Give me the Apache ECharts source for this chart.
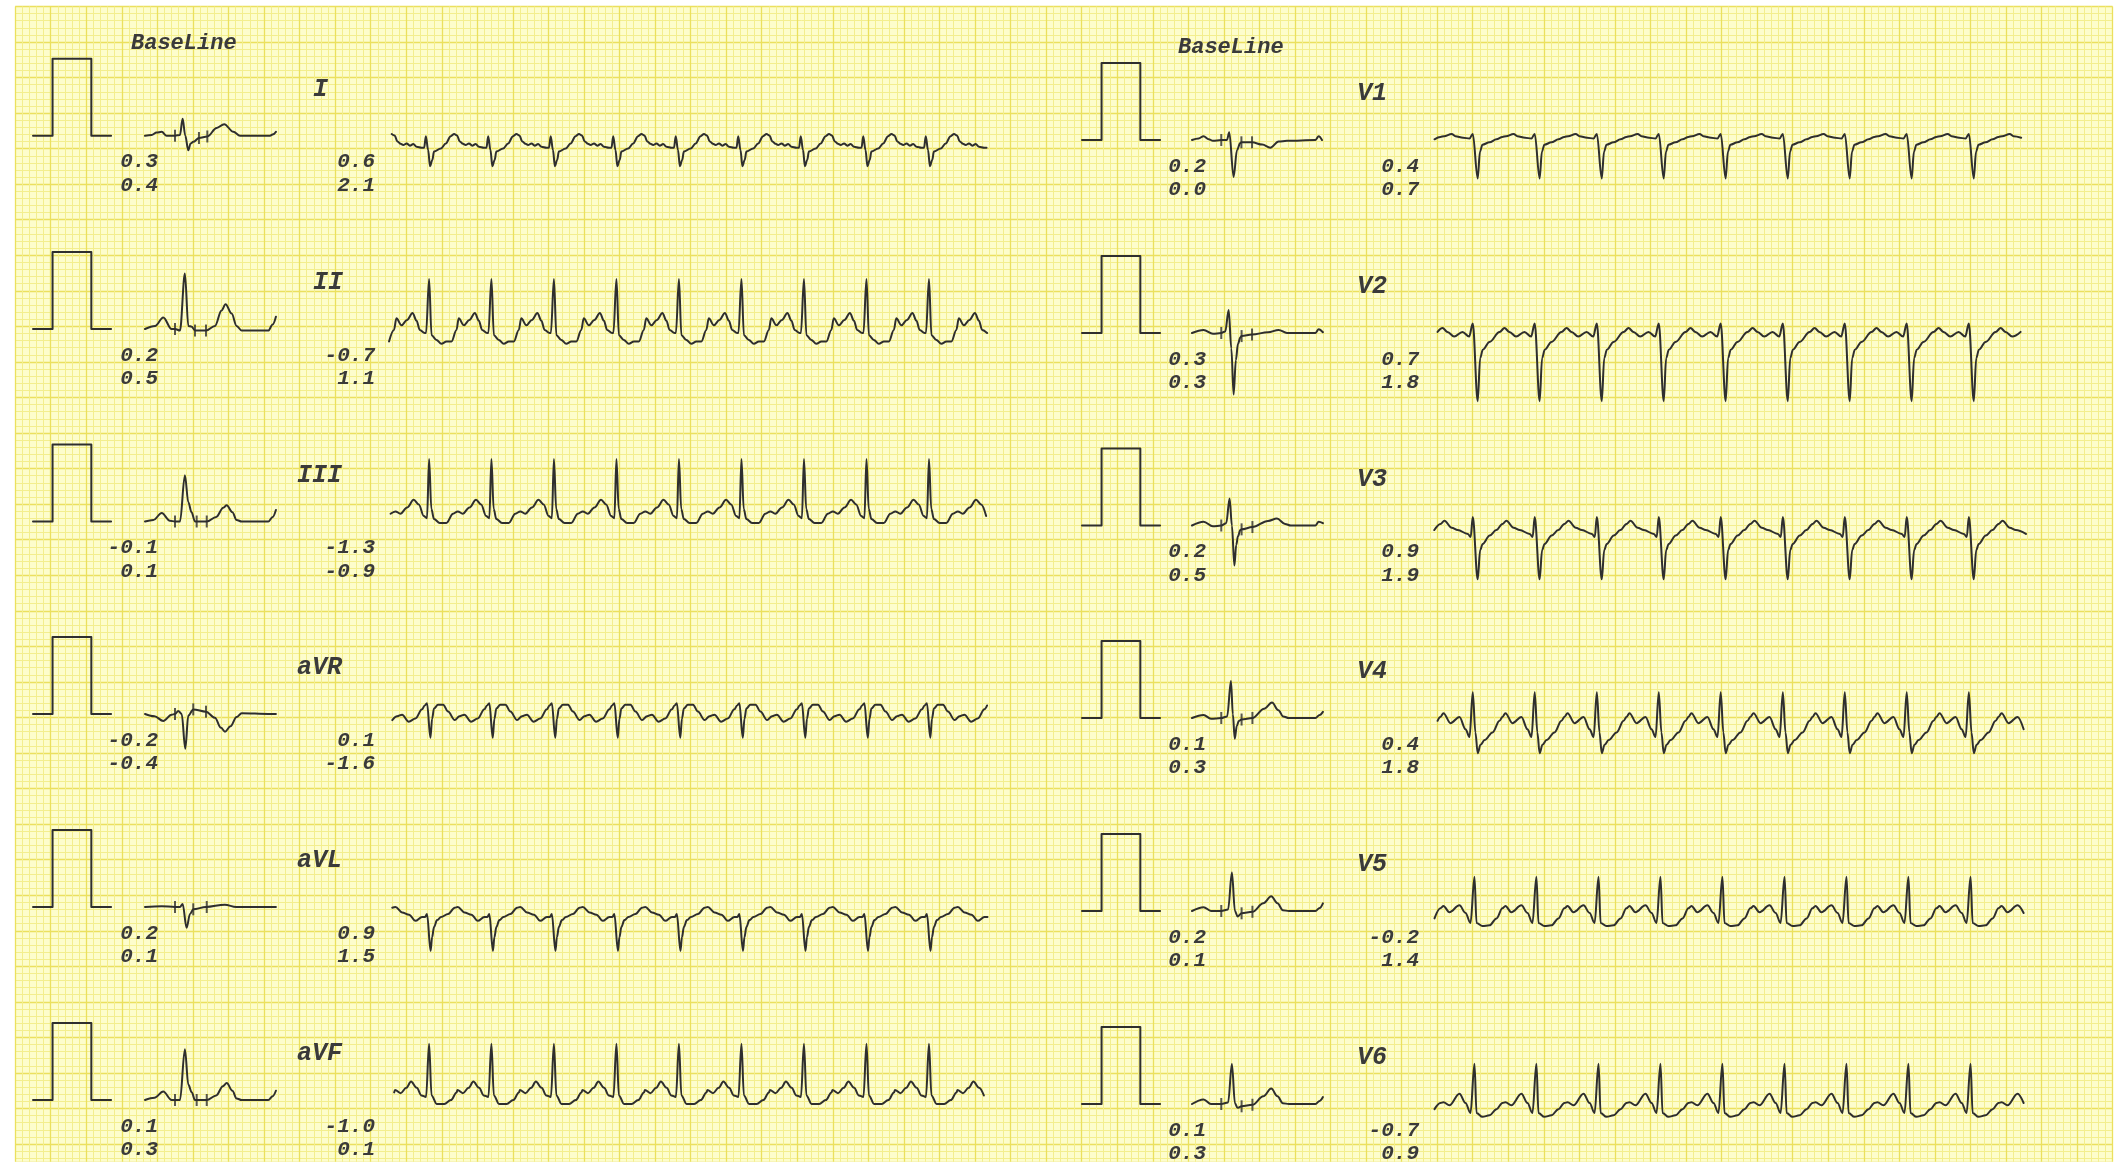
<!DOCTYPE html>
<html><head><meta charset="utf-8">
<script src="https://cdn.jsdelivr.net/npm/echarts@6/dist/echarts.min.js"></script>
<style>html,body{margin:0;padding:0;background:#fff}#c{width:2123px;height:1162px}</style>
</head><body><div id="c"></div>
<script>
// ---------------- DATA (ms, mV) ----------------
const leadsLeft = ['I','II','III','aVR','aVL','aVF'];
const leadsRight = ['V1','V2','V3','V4','V5','V6'];

// calibration pulse
const pulseT = [0, 103, 103, 307, 307, 411];
const pulseV = [0, 0, 1, 1, 0, 0];

// numbers printed under median beats and before rhythm strips
const medNumsLeft  = [['0.3','0.4'],['0.2','0.5'],['-0.1','0.1'],['-0.2','-0.4'],['0.2','0.1'],['0.1','0.3']];
const stripNumsLeft = [['0.6','2.1'],['-0.7','1.1'],['-1.3','-0.9'],['0.1','-1.6'],['0.9','1.5'],['-1.0','0.1']];
const medNumsRight = [['0.2','0.0'],['0.3','0.3'],['0.2','0.5'],['0.1','0.3'],['0.2','0.1'],['0.1','0.3']];
const stripNumsRight = [['0.4','0.7'],['0.7','1.8'],['0.9','1.9'],['0.4','1.8'],['-0.2','1.4'],['-0.7','0.9']];

// beat (R) times in rhythm strips, ms from strip start
const beatsLeft  = [211, 539, 868, 1197, 1526, 1855, 2184, 2513, 2842];
const beatsRight = [213, 539, 866, 1192, 1518, 1845, 2171, 2497, 2824];
const stripEndLeft = 3150;
const stripEndRight = 3120;

// median (BaseLine) beats, [ms, mV]
const medI   = [[0,0],[35,0.01],[61,0.04],[88,0.05],[114,0],[158,0],[184,0.01],[198,0.22],[212,0],[228,-0.19],[240,-0.1],[254,-0.08],[284,-0.03],[328,-0.01],[377,0.1],[417,0.15],[465,0.05],[500,0],[658,0],[675,0.02],[689,0.05]];
const medII  = [[0,0],[53,0.04],[96,0.15],[140,0],[158,0],[184,-0.02],[210,0.72],[228,0.04],[246,0.03],[263,-0.02],[321,-0.02],[368,0.04],[403,0.24],[424,0.32],[456,0.2],[482,0.04],[509,-0.02],[649,-0.02],[672,0.06],[689,0.16]];
const medIII = [[0,0],[44,0.02],[88,0.11],[131,0.01],[158,0],[184,0],[210,0.6],[228,0.25],[245,0.12],[263,0],[325,0],[375,0.06],[412,0.18],[430,0.21],[460,0.12],[482,0.02],[509,0],[649,0],[672,0.06],[689,0.15]];
const medaVR = [[0,0],[50,-0.03],[96,-0.09],[140,-0.01],[158,0],[175,0.04],[193,0],[212,-0.45],[228,-0.02],[254,0.06],[321,0.03],[368,-0.05],[400,-0.18],[421,-0.23],[450,-0.16],[482,-0.04],[509,0.01],[649,0],[689,0]];
const medaVL = [[0,0],[88,0.01],[158,0],[184,0],[198,0.04],[219,-0.27],[237,-0.09],[254,-0.03],[321,0],[420,0.03],[480,0],[689,0]];
const medaVF = [[0,0],[50,0.03],[96,0.11],[140,0],[158,0],[184,0],[210,0.66],[228,0.2],[246,0.1],[263,0],[325,0],[375,0.06],[410,0.18],[430,0.22],[460,0.12],[482,0.02],[509,0],[649,0],[672,0.05],[689,0.12]];
const medV1  = [[0,0],[35,0.02],[61,0.05],[88,0.01],[110,-0.01],[154,0],[184,0],[196,0.1],[219,-0.48],[237,-0.13],[254,-0.04],[260,-0.03],[316,-0.03],[370,-0.06],[412,-0.1],[456,-0.02],[500,-0.01],[650,0],[667,0.05],[684,0]];
const medV2  = [[0,0],[61,0.04],[110,-0.01],[154,0],[175,0.02],[193,0.3],[207,-0.2],[219,-0.8],[231,-0.35],[242,-0.14],[254,-0.06],[261,-0.04],[316,-0.02],[400,0.01],[456,0.04],[500,0],[650,0],[667,0.05],[689,0.01]];
const medV3  = [[0,0],[61,0.05],[110,-0.01],[154,0],[180,0.03],[198,0.35],[210,0],[223,-0.52],[233,-0.25],[242,-0.14],[254,-0.06],[261,-0.05],[318,-0.02],[400,0.06],[447,0.09],[490,0.02],[520,0],[650,0],[667,0.05],[689,0.03]];
const medV4  = [[0,0],[61,0.04],[100,-0.01],[154,0],[185,0.02],[205,0.48],[215,0.05],[225,-0.27],[236,-0.1],[246,-0.04],[261,-0.02],[318,0],[380,0.12],[421,0.2],[455,0.1],[480,0.02],[510,0],[650,0],[672,0.04],[689,0.08]];
const medV5  = [[0,0],[61,0.05],[100,0],[154,0],[190,0.02],[210,0.5],[226,0],[240,-0.07],[261,-0.03],[318,-0.01],[375,0.1],[417,0.19],[450,0.1],[478,0.01],[510,0],[650,0],[672,0.04],[689,0.1]];
const medV6  = [[0,0],[61,0.06],[100,0],[154,0],[190,0.02],[210,0.52],[226,0.01],[240,-0.05],[261,-0.03],[318,-0.01],[375,0.1],[417,0.2],[450,0.1],[478,0.01],[510,0],[650,0],[672,0.04],[689,0.09]];

// fiducial tick marks on the median beats, [ms, mV]
const ticksI   = [[158,0],[284,-0.03],[328,-0.01]];
const ticksII  = [[158,0],[263,-0.02],[321,-0.02]];
const ticksIII = [[158,0],[272,0],[325,0]];
const ticksaVR = [[158,0],[254,0.06],[321,0.03]];
const ticksaVL = [[158,0],[254,-0.03],[325,0]];
const ticksaVF = [[158,0],[272,0],[325,0]];
const ticksV1  = [[154,0],[260,-0.03],[316,-0.03]];
const ticksV2  = [[154,0],[261,-0.04],[316,-0.02]];
const ticksV3  = [[154,0],[261,-0.05],[318,-0.02]];
const ticksV4  = [[154,0],[261,-0.02],[318,0]];
const ticksV5  = [[154,0],[261,-0.03],[318,-0.01]];
const ticksV6  = [[154,0],[261,-0.03],[318,-0.01]];

// one cardiac cycle of each rhythm strip, [ms relative to beat, mV]
const cycI   = [[-166,0.08],[-150,0.05],[-136,0.035],[-118,0.056],[-101,0.026],[-83,0.048],[-66,0.013],[-39,0],[-26,0],[-17,0.15],[-5,-0.03],[5,-0.24],[17,-0.16],[26,-0.05],[62,-0.01],[88,0.056],[114,0.15],[132,0.178],[147,0.16]];
const cycII  = [[-172,0.19],[-145,0.1],[-116,0.17],[-87,0.26],[-66,0.16],[-49,0.04],[-23,0],[-16,0],[0,0.7],[13,-0.03],[39,-0.09],[65,-0.14],[92,-0.11],[118,-0.11],[144,0.04]];
const cycIII = [[-177,0.06],[-151,0.03],[-116,0.11],[-81,0.21],[-54,0.15],[-28,0],[-11,-0.03],[0,0.74],[12,0.09],[26,-0.04],[56,-0.09],[91,-0.09],[126,0.03]];
const cycaVR = [[-168,-0.12],[-142,-0.1],[-107,-0.19],[-72,-0.15],[-37,-0.03],[-23,0.02],[-11,0.05],[7,-0.4],[16,-0.15],[26,-0.02],[47,0.03],[74,0.03],[100,-0.06],[135,-0.17]];
const cycaVL = [[-177,0.13],[-142,0.06],[-105,0.03],[-72,-0.05],[-37,0],[-21,0],[-11,0.04],[8,-0.44],[16,-0.26],[26,-0.13],[42,-0.04],[63,0],[100,0.04],[135,0.12]];
const cycaVF = [[-179,0.09],[-150,0.05],[-120,0.12],[-95,0.2],[-65,0.12],[-40,0.02],[-16,0],[0,0.69],[13,0.02],[40,-0.09],[80,-0.09],[115,-0.04],[145,0.06]];
const cycV1  = [[-160,0.03],[-120,0.06],[-100,0.03],[-60,0.01],[-26,0],[-9,0.06],[17,-0.52],[29,-0.17],[42,-0.08],[79,-0.05],[116,-0.01],[147,0.02]];
const cycV2  = [[-168,0.09],[-142,0.04],[-107,-0.02],[-63,0.04],[-28,-0.02],[-9,0.15],[17,-0.86],[30,-0.3],[44,-0.19],[79,-0.09],[132,0.04]];
const cycV3  = [[-158,0.21],[-120,0.12],[-88,0.09],[-35,0.04],[-20,0],[-9,0.26],[17,-0.55],[30,-0.17],[43,-0.09],[80,0.02],[115,0.09],[147,0.17]];
const cycV4  = [[-163,0.31],[-126,0.18],[-79,0.26],[-47,0.1],[-26,0],[-9,0.58],[5,0.06],[17,-0.21],[32,-0.1],[53,-0.04],[95,0.06],[132,0.21],[147,0.26]];
const cycV5  = [[-163,0.22],[-132,0.14],[-79,0.23],[-47,0.13],[-21,0],[0,0.6],[11,0],[42,-0.04],[79,-0.03],[116,0.06],[147,0.19]];
const cycV6  = [[-163,0.14],[-132,0.1],[-79,0.25],[-47,0.13],[-21,0],[0,0.64],[11,0],[42,-0.05],[79,-0.03],[116,0.05],[147,0.13]];

// ---------------- LAYOUT ----------------
const PXMS = 0.19, PXMV = 77;       // px per ms, px per mV
const VMIN = -1.2, VMAX = 1.2;
const TRACE = '#2e2e2e';
const TXT = '#3a3a3a';
const FONT = '"Liberation Mono", "DejaVu Sans Mono", monospace';

const cols = [
  { leads: leadsLeft, meds:[medI,medII,medIII,medaVR,medaVL,medaVF], ticks:[ticksI,ticksII,ticksIII,ticksaVR,ticksaVL,ticksaVF],
    cycs:[cycI,cycII,cycIII,cycaVR,cycaVL,cycaVF], beats: beatsLeft, end: stripEndLeft,
    medNums: medNumsLeft, stripNums: stripNumsLeft,
    pulseX:33, medX:145, stripX:389, baseY:[135.7,329,521.5,714,907,1100], stripY:[147.7,333,516,707,917,1097],
    medNumX:158, stripNumX:375, labelX:[313,313,297,297,297,297], blX:131, blY:43 },
  { leads: leadsRight, meds:[medV1,medV2,medV3,medV4,medV5,medV6], ticks:[ticksV1,ticksV2,ticksV3,ticksV4,ticksV5,ticksV6],
    cycs:[cycV1,cycV2,cycV3,cycV4,cycV5,cycV6], beats: beatsRight, end: stripEndRight,
    medNums: medNumsRight, stripNums: stripNumsRight,
    pulseX:1082, medX:1192, stripX:1434, baseY:[140,333,525.5,718,911,1104], stripY:[138.5,335,537,737,923,1113],
    medNumX:1206, stripNumX:1419, labelX:[1357,1357,1357,1357,1357,1357], blX:1178, blY:47 }
];

function stripData(cyc, beats, end) {
  const n = beats.length;
  const period = (beats[n-1] - beats[0]) / (n - 1);
  const centers = [beats[0] - period].concat(beats, [beats[n-1] + period]);
  const out = [];
  centers.forEach(c => cyc.forEach(p => { const t = c + p[0]; if (t >= 0 && t <= end) out.push([t, p[1]]); }));
  return out;
}

const grids = [], xAxes = [], yAxes = [], series = [], graphics = [];

// paper grid (mm)
const MM = 7.11;
grids.push({ left: 15.15, top: 6.45, width: 295 * MM, height: 162.5 * MM, show: true,
  backgroundColor: '#fdfdcc', borderWidth: 0, outerBoundsMode: 'none', containLabel: false });
const paperAxis = (max, inv) => ({ type: 'value', gridIndex: 0, min: 0, max: max, interval: 5, inverse: inv,
  axisLine: {show:false}, axisTick: {show:false}, axisLabel: {show:false},
  splitLine: {show:true, lineStyle:{color:'#ebe05e', width:1.3}},
  minorTick: {show:false, splitNumber:5},
  minorSplitLine: {show:true, lineStyle:{color:'#f3ee8e', width:1}} });
xAxes.push(paperAxis(295, false));
yAxes.push(paperAxis(162.5, true));

function panel(x0, y0, tMax) {
  const idx = grids.length;
  grids.push({ left: x0, top: y0 - VMAX * PXMV, width: tMax * PXMS, height: (VMAX - VMIN) * PXMV,
    show: false, outerBoundsMode: 'none', containLabel: false });
  xAxes.push({ type:'value', gridIndex: idx, min: 0, max: tMax, show: false });
  yAxes.push({ type:'value', gridIndex: idx, min: VMIN, max: VMAX, show: false });
  return idx;
}
function lineSeries(idx, data, smooth) {
  series.push({ type:'line', xAxisIndex: idx, yAxisIndex: idx, data: data, symbol:'none', showSymbol:false,
    smooth: smooth, smoothMonotone: 'x',
    lineStyle:{color: TRACE, width: 2, join: 'round', cap: 'round'}, clip:false, silent:true, animation:false, z: 5 });
}
function text(str, x, y, size, align) {
  graphics.push({ type:'text', x: x, y: y, silent: true, z: 10,
    style: { text: str, font: 'italic bold ' + size + 'px ' + FONT, fill: TXT,
      align: align, textAlign: align, verticalAlign: 'middle', textVerticalAlign: 'middle' } });
}

cols.forEach(col => {
  text('BaseLine', col.blX, col.blY, 22, 'left');
  col.leads.forEach((name, r) => {
    const by = col.baseY[r];
    // calibration pulse
    const gp = panel(col.pulseX, by, pulseT[pulseT.length-1]);
    lineSeries(gp, pulseT.map((t, i) => [t, pulseV[i]]), false);
    // median beat
    const med = col.meds[r];
    const gm = panel(col.medX, by, med[med.length-1][0]);
    lineSeries(gm, med, 0.35);
    series.push({ type:'scatter', xAxisIndex: gm, yAxisIndex: gm, data: col.ticks[r], symbol:'rect',
      symbolSize:[2, 12], itemStyle:{color: TRACE}, silent:true, animation:false, z: 6 });
    // rhythm strip
    const gs = panel(col.stripX, col.stripY[r], col.end);
    lineSeries(gs, stripData(col.cycs[r], col.beats, col.end), 0.35);
    // texts
    text(name, col.labelX[r], by - 46, 25, 'left');
    text(col.medNums[r][0], col.medNumX, by + 26.5, 21, 'right');
    text(col.medNums[r][1], col.medNumX, by + 50, 21, 'right');
    text(col.stripNums[r][0], col.stripNumX, by + 26.5, 21, 'right');
    text(col.stripNums[r][1], col.stripNumX, by + 50, 21, 'right');
  });
});

const chart = echarts.init(document.getElementById('c'), null, { renderer: 'canvas' });
chart.setOption({
  backgroundColor: '#ffffff',
  animation: false,
  grid: grids, xAxis: xAxes, yAxis: yAxes, series: series, graphic: graphics
});
</script>
</body></html>
